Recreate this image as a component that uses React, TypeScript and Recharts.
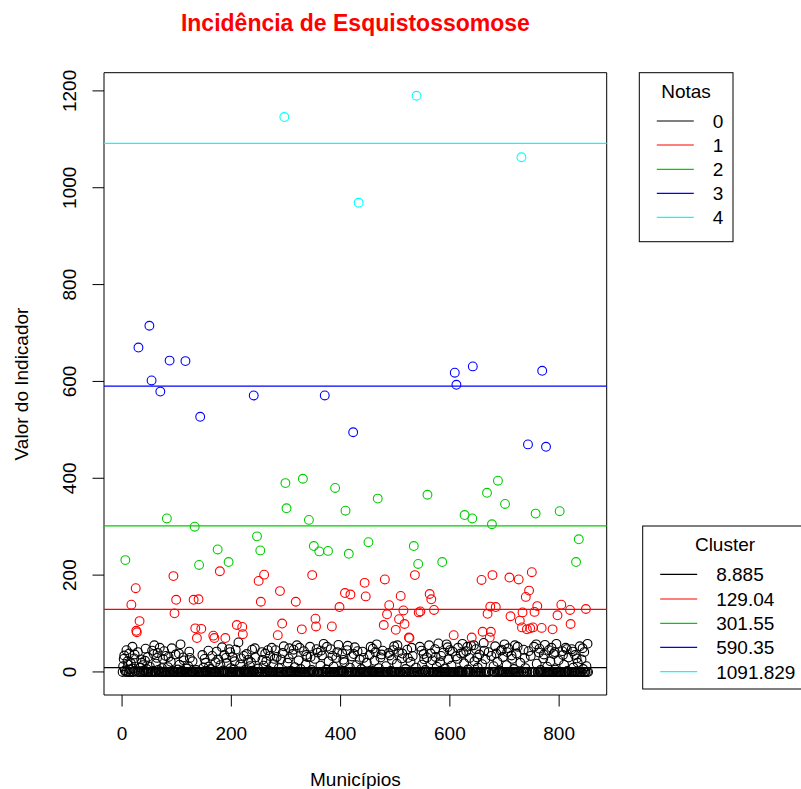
import { ScatterChart, Scatter, XAxis, YAxis, ReferenceLine, ReferenceArea } from 'recharts'

const FONT = '"Liberation Sans", Arial, sans-serif'

// valor do indicador por município (ordem do cadastro, 1..853)
const valores: number[] = [
  0, 12, 27, 34, 3, 231, 0, 45, 1, 22, 15, 0, 38, 5, 0, 18, 139, 0, 52, 7,
  0, 28, 36, 2, 173, 85, 82, 0, 41, 670, 0, 105, 9, 0, 26, 19, 0, 14, 0, 3,
  0, 23, 48, 0, 6, 0, 31, 0, 0, 715, 11, 0, 0, 602, 44, 0, 2, 37, 55, 0,
  0, 17, 0, 29, 39, 4, 0, 0, 50, 579, 0, 0, 8, 0, 27, 0, 43, 1, 0, 33,
  0, 317, 0, 10, 31, 0, 643, 0, 21, 0, 49, 2, 0, 198, 0, 121, 0, 36, 149, 0,
  0, 5, 0, 38, 15, 0, 57, 0, 0, 3, 0, 30, 24, 0, 0, 642, 0, 7, 0, 0,
  12, 0, 42, 29, 0, 0, 1, 0, 22, 0, 149, 0, 300, 90, 0, 4, 70, 0, 0, 150,
  221, 0, 527, 0, 89, 0, 35, 0, 9, 0, 27, 0, 19, 0, 0, 2, 0, 44, 11, 0,
  0, 6, 0, 0, 33, 0, 75, 0, 70, 0, 20, 0, 42, 0, 253, 26, 0, 0, 208, 14,
  0, 0, 51, 0, 3, 0, 35, 0, 70, 29, 0, 18, 0, 0, 227, 47, 0, 41, 8, 0,
  0, 31, 0, 0, 5, 22, 0, 46, 0, 97, 0, 0, 61, 0, 1, 15, 0, 28, 0, 93,
  78, 0, 33, 0, 4, 0, 0, 37, 0, 0, 25, 0, 0, 12, 0, 20, 0, 46, 0, 2,
  571, 0, 49, 30, 0, 0, 280, 0, 7, 188, 0, 0, 251, 145, 0, 41, 25, 0, 13, 201,
  0, 38, 0, 22, 0, 0, 45, 3, 0, 0, 33, 0, 0, 50, 0, 0, 16, 0, 27, 0,
  45, 0, 31, 0, 76, 0, 8, 0, 167, 0, 26, 0, 100, 39, 0, 53, 1146, 0, 390, 0,
  338, 0, 19, 0, 28, 49, 0, 0, 2, 0, 0, 37, 0, 46, 0, 10, 0, 145, 0, 55,
  0, 0, 24, 0, 50, 0, 6, 0, 88, 0, 399, 0, 43, 0, 0, 15, 35, 0, 31, 0,
  0, 314, 0, 52, 31, 0, 4, 200, 0, 0, 260, 0, 27, 110, 94, 47, 0, 40, 0, 0,
  249, 0, 13, 44, 0, 34, 0, 0, 58, 0, 571, 0, 0, 5, 52, 0, 250, 22, 0, 0,
  0, 47, 0, 94, 33, 0, 11, 0, 0, 380, 0, 29, 0, 41, 0, 56, 0, 134, 0, 3,
  0, 0, 38, 0, 25, 0, 20, 163, 333, 0, 0, 45, 54, 0, 244, 0, 9, 160, 0, 0,
  32, 0, 495, 37, 0, 51, 0, 0, 14, 0, 43, 0, 969, 0, 26, 0, 0, 6, 0, 42,
  0, 29, 0, 184, 0, 156, 0, 19, 0, 0, 268, 0, 35, 0, 52, 3, 0, 0, 48, 0,
  0, 23, 0, 41, 0, 57, 0, 358, 0, 8, 0, 0, 30, 0, 36, 0, 44, 0, 97, 0,
  191, 0, 12, 0, 119, 0, 0, 39, 138, 34, 0, 2, 0, 25, 0, 45, 0, 53, 0, 0,
  87, 0, 17, 55, 0, 41, 109, 0, 0, 157, 0, 28, 38, 0, 127, 0, 99, 0, 6, 0,
  0, 46, 29, 0, 71, 70, 0, 21, 0, 50, 0, 33, 0, 260, 0, 200, 0, 9, 1190, 0,
  0, 223, 123, 0, 52, 125, 0, 44, 15, 0, 0, 37, 26, 0, 4, 0, 0, 30, 366, 0,
  0, 55, 161, 0, 38, 150, 0, 24, 0, 0, 128, 0, 47, 31, 0, 11, 0, 0, 59, 0,
  0, 20, 0, 33, 0, 227, 0, 40, 0, 0, 7, 0, 0, 57, 0, 51, 26, 0, 0, 45,
  0, 0, 13, 0, 42, 0, 76, 0, 618, 0, 32, 593, 0, 27, 50, 0, 2, 0, 0, 38,
  0, 0, 58, 0, 39, 18, 324, 0, 0, 43, 0, 52, 5, 0, 0, 29, 0, 0, 54, 71,
  317, 631, 0, 55, 22, 0, 0, 47, 0, 30, 9, 0, 0, 36, 0, 0, 0, 190, 16, 83,
  0, 60, 44, 0, 26, 0, 0, 370, 120, 0, 41, 0, 71, 135, 83, 33, 305, 200, 0, 12,
  0, 0, 53, 134, 38, 0, 21, 395, 0, 0, 3, 0, 44, 0, 46, 0, 31, 0, 0, 57,
  347, 0, 0, 14, 41, 0, 49, 0, 195, 0, 115, 0, 34, 27, 0, 0, 6, 0, 55, 0,
  0, 38, 0, 52, 0, 191, 0, 106, 19, 0, 1063, 92, 123, 0, 46, 0, 29, 8, 155, 0,
  88, 0, 470, 43, 168, 0, 90, 33, 0, 206, 0, 92, 0, 52, 124, 0, 327, 57, 17, 136,
  0, 0, 40, 48, 0, 4, 0, 91, 622, 0, 28, 36, 0, 56, 0, 465, 0, 11, 0, 0,
  45, 0, 0, 22, 0, 50, 0, 88, 0, 37, 0, 41, 5, 0, 58, 0, 117, 0, 24, 0,
  332, 0, 0, 139, 0, 43, 35, 0, 15, 0, 0, 50, 0, 47, 2, 0, 30, 0, 0, 128,
  99, 0, 47, 0, 42, 9, 0, 0, 35, 0, 227, 28, 0, 19, 0, 274, 0, 53, 0, 0,
  26, 0, 49, 6, 0, 41, 0, 0, 130, 12, 0, 58, 0,
]

// centros dos clusters (k-means, k = 5) e notas correspondentes
const centros = [8.885, 129.04, 301.55, 590.35, 1091.829]
const notas = ['0', '1', '2', '3', '4']
const cores = ['#000000', '#FF0000', '#00CD00', '#0000FF', '#00FFFF']

const xTicks = [0, 200, 400, 600, 800]
const yTicks = [0, 200, 400, 600, 800, 1000, 1200]

// cada município vai para o cluster de centro mais próximo
const clusterDe = (v: number) => {
  let best = 0
  centros.forEach((c, k) => {
    if (Math.abs(v - c) < Math.abs(v - centros[best])) best = k
  })
  return best
}

const pontos = valores.map((valor, i) => ({ municipio: i + 1, valor }))
const series = notas.map((_, k) => pontos.filter((p) => clusterDe(p.valor) === k))

// limites com a folga de 4% usada pelo R
const xMin = 1
const xMax = valores.length
const yMin = Math.min(...valores)
const yMax = Math.max(...valores)
const xDomain = [xMin - 0.04 * (xMax - xMin), xMax + 0.04 * (xMax - xMin)]
const yDomain = [yMin - 0.04 * (yMax - yMin), yMax + 0.04 * (yMax - yMin)]

const YTick = (props: any) => {
  const { x, y, payload } = props
  return (
    <text
      x={x}
      y={y}
      transform={`rotate(-90, ${x}, ${y})`}
      textAnchor="middle"
      dy="0.36em"
      fontSize={19}
      fontFamily={FONT}
      fill="#000"
    >
      {payload.value}
    </text>
  )
}

const circulo = (cor: string) => (props: any) => (
  <circle cx={props.cx} cy={props.cy} r={4.4} fill="none" stroke={cor} strokeWidth={1.1} />
)

function Legenda({ x, y, w, h, titulo, rotulos, cx, linhaY }: {
  x: number; y: number; w: number; h: number; titulo: string; rotulos: string[]; cx: number; linhaY: number[]
}) {
  return (
    <g fontFamily={FONT} fontSize={19} fill="#000">
      <rect x={x} y={y} width={w} height={h} fill="#fff" stroke="#000" strokeWidth={1} />
      <text x={cx} y={y + 25} textAnchor="middle">{titulo}</text>
      {rotulos.map((r, k) => (
        <g key={r}>
          <line x1={x + 17.5} x2={x + 54.5} y1={linhaY[k]} y2={linhaY[k]} stroke={cores[k]} strokeWidth={1.2} />
          <text x={x + 73.5} y={linhaY[k] + 6.8}>{r}</text>
        </g>
      ))}
    </g>
  )
}

export default function App() {
  return (
    <div style={{ position: 'absolute', left: 0, top: 0, width: 801, height: 789, background: '#fff' }}>
      <ScatterChart
        width={801}
        height={789}
        margin={{ top: 72.7, right: 194.3, bottom: 54, left: 44 }}
      >
        <XAxis
          type="number"
          dataKey="municipio"
          domain={xDomain}
          ticks={xTicks}
          allowDataOverflow
          height={40}
          axisLine={false}
          tickSize={11.5}
          tickMargin={19.7}
          tickLine={{ stroke: '#000' }}
          tick={{ fontSize: 19, fontFamily: FONT, fill: '#000' }}
        />
        <YAxis
          type="number"
          dataKey="valor"
          domain={yDomain}
          ticks={yTicks}
          allowDataOverflow
          width={60}
          axisLine={false}
          tickSize={11.5}
          tickMargin={23}
          tickLine={{ stroke: '#000' }}
          tick={<YTick />}
        />
        <ReferenceArea
          x1={xDomain[0]}
          x2={xDomain[1]}
          y1={yDomain[0]}
          y2={yDomain[1]}
          fill="none"
          stroke="#000"
          strokeWidth={1}
          ifOverflow="extendDomain"
        />
        {series.map((dados, k) => (
          <Scatter
            key={notas[k]}
            data={dados}
            isAnimationActive={false}
            shape={circulo(cores[k])}
          />
        ))}
        {centros.map((c, k) => (
          <ReferenceLine key={c} y={c} stroke={cores[k]} strokeWidth={1.2} />
        ))}
      </ScatterChart>
      <svg width={801} height={789} style={{ position: 'absolute', left: 0, top: 0, pointerEvents: 'none' }}>
        <text x={355.4} y={31} textAnchor="middle" fontFamily={FONT} fontSize={23} fontWeight="bold" fill="#FF0000">
          Incidência de Esquistossomose
        </text>
        <text x={355.4} y={786} textAnchor="middle" fontFamily={FONT} fontSize={19} fill="#000">
          Municípios
        </text>
        <text
          x={21}
          y={384}
          transform="rotate(-90, 21, 384)"
          textAnchor="middle"
          dy="0.36em"
          fontFamily={FONT}
          fontSize={19}
          fill="#000"
        >
          Valor do Indicador
        </text>
        <Legenda
          x={639.3}
          y={72.7}
          w={93.7}
          h={169}
          titulo="Notas"
          rotulos={notas}
          cx={686}
          linhaY={[121, 145, 169.3, 193.3, 217.3]}
        />
        <Legenda
          x={642.7}
          y={526}
          w={200}
          h={163}
          titulo="Cluster"
          rotulos={centros.map(String)}
          cx={725}
          linhaY={[574.3, 599, 623.3, 647.3, 671.7]}
        />
      </svg>
    </div>
  )
}
